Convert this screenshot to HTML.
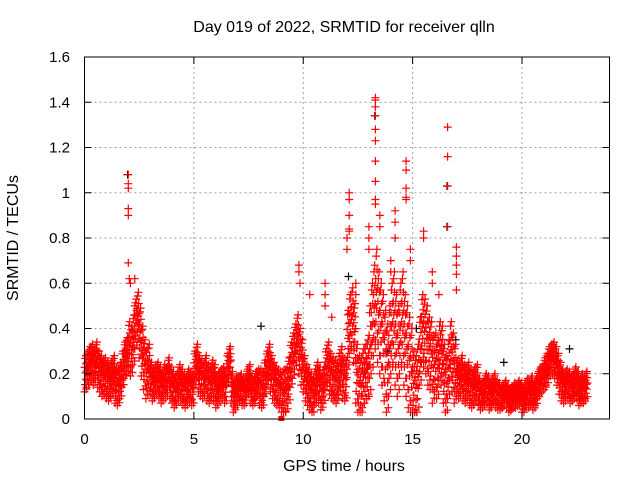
<!DOCTYPE html>
<html><head><meta charset="utf-8"><style>
body{margin:0;background:#fff;}
svg{display:block;font-family:"Liberation Sans",sans-serif;}
</style></head><body>
<svg width="640" height="480" id="c">
<text x="344" y="32" text-anchor="middle" font-size="16">Day 019 of 2022, SRMTID for receiver qlln</text>
<text x="344" y="471" text-anchor="middle" font-size="16">GPS time / hours</text>
<text transform="translate(18,238) rotate(-90)" text-anchor="middle" font-size="16">SRMTID / TECUs</text>
<g id="grid"></g>
<g id="marks"></g>
<rect x="84.5" y="57" width="525" height="362" fill="none" stroke="#000" stroke-width="1"/>
<g id="ticks"></g>
</svg>
<script>
const xTicks=[0,5,10,15,20];
const yTicks=[0,0.2,0.4,0.6,0.8,1,1.2,1.4,1.6];
const yTickLabels=["0","0.2","0.4","0.6","0.8","1","1.2","1.4","1.6"];
const baseMid=[
.20,.22,.24,.25,.23,.26,.22,.20,.18,.19,
.17,.16,.18,.20,.15,.14,.17,.22,.26,.28,
.32,.30,.35,.42,.45,.38,.30,.24,.20,.22,
.18,.15,.17,.18,.16,.14,.17,.16,.20,.16,
.14,.12,.14,.17,.15,.13,.12,.15,.14,.13,
.22,.25,.20,.18,.17,.20,.16,.15,.18,.16,
.12,.14,.15,.16,.14,.22,.25,.14,.10,.12,
.13,.14,.12,.12,.16,.18,.13,.12,.15,.16,
.14,.13,.18,.22,.25,.20,.17,.15,.14,.13,
.11,.12,.13,.17,.24,.28,.32,.36,.30,.25,
.20,.16,.14,.12,.10,.14,.17,.15,.12,.15,
.22,.25,.20,.18,.17,.16,.20,.23,.18,.17,
.35,.42,.45,.38,.20,.15,.14,.18,.20,.22,
.30,.40,.48,.55,.45,.40,.35,.28,.22,.30,
.40,.45,.35,.30,.40,.45,.35,.30,.25,.20,
.15,.13,.18,.30,.40,.38,.35,.30,.28,.22,
.25,.22,.30,.28,.20,.15,.22,.30,.25,.20,
.18,.17,.20,.16,.15,.17,.14,.13,.15,.16,
.12,.10,.11,.14,.13,.10,.12,.14,.11,.10,
.09,.10,.12,.10,.08,.09,.11,.10,.12,.11,
.08,.10,.12,.11,.13,.10,.12,.15,.17,.18,
.20,.22,.25,.26,.27,.25,.22,.18,.15,.14,
.16,.15,.13,.14,.17,.15,.12,.14,.13,.15];
const hourSpread=[.08,.08,.11,.07,.07,.08,.07,.06,.08,.1,.08,.09,.13,.2,.2,.15,.13,.08,.06,.05,.06,.07,.06];
const spikeTimes=[2.0,2.0,2.0,2.0,2.0,2.0,2.05,2.1,2.3,2.3,9.8,9.8,9.85,10.3,11.0,11.0,11.0,11.3,12.0,12.0,12.1,12.1,12.1,12.1,12.1,12.4,12.4,13.0,13.0,13.0,13.3,13.3,13.3,13.3,13.3,13.3,13.3,13.3,13.3,13.3,13.5,13.5,14.2,14.2,14.2,14.0,14.0,14.7,14.7,14.7,14.7,14.7,14.9,14.9,15.5,15.5,15.9,15.9,16.6,16.6,16.6,16.6,17.0,17.0,17.0,17.0,17.0,16.2];
const spikeValues=[1.08,1.04,1.02,0.93,0.9,0.69,0.62,0.6,0.62,0.5,0.68,0.65,0.6,0.55,0.6,0.55,0.5,0.45,0.8,0.75,1.0,0.97,0.9,0.84,0.83,0.6,0.55,0.85,0.8,0.75,1.42,1.41,1.38,1.34,1.28,1.23,1.14,1.05,0.97,0.95,0.9,0.85,0.92,0.87,0.8,0.7,0.65,1.14,1.1,1.02,0.98,0.97,0.75,0.7,0.83,0.8,0.65,0.6,1.29,1.16,1.03,0.85,0.76,0.72,0.68,0.64,0.57,0.55];
const blackTimes=[8.1,16.6,16.6,2.0,13.3,12.1,19.2,22.2,17.0,13.9,15.2];
const blackValues=[0.41,1.03,0.85,1.08,1.34,0.63,0.25,0.31,0.35,0.3,0.4];
const NS="http://www.w3.org/2000/svg";
const X=t=>84.5+t*525/24, Y=v=>419-v*362/1.6;
const scatter=[[-1,0],[0.35,0.011],[-0.6,0.022],[0.85,0.033],[0.05,0.044],[-0.3,0.055],[1,0.066],[0.55,0.077],[-0.85,0.088],[0.15,0.095]];
const grid=document.getElementById('grid'),marks=document.getElementById('marks'),ticks=document.getElementById('ticks');
function ln(g,x1,y1,x2,y2,st,dash){const l=document.createElementNS(NS,'line');l.setAttribute('x1',x1);l.setAttribute('y1',y1);l.setAttribute('x2',x2);l.setAttribute('y2',y2);l.setAttribute('stroke',st);if(dash)l.setAttribute('stroke-dasharray',dash);g.appendChild(l);return l;}
xTicks.forEach(t=>{const x=X(t);
 const g=ln(grid,x,57,x,419,'#a0a0a0','2,3');
 
 
 ln(ticks,x,419,x,412,'#000');ln(ticks,x,57,x,64,'#000');
 const tx=document.createElementNS(NS,'text');tx.setAttribute('x',x);tx.setAttribute('y',444);tx.setAttribute('text-anchor','middle');tx.setAttribute('font-size','15');tx.textContent=String(t);
 
 
 ticks.appendChild(tx);});
yTicks.forEach((v,i)=>{const y=Y(v);
 const g=ln(grid,84.5,y,609.5,y,'#a0a0a0','2,3');
 
 
 ln(ticks,84.5,y,91.5,y,'#000');ln(ticks,609.5,y,602.5,y,'#000');
 const tx=document.createElementNS(NS,'text');tx.setAttribute('x',70);tx.setAttribute('y',y+5);tx.setAttribute('text-anchor','end');tx.setAttribute('font-size','15');tx.textContent=yTickLabels[i];
 
 
 ticks.appendChild(tx);});
let d={'#000':'','#f00':''};
function plus(t,v,c){const x=X(t).toFixed(1),y=Y(v).toFixed(1);d[c]+=`M${x-4} ${y}h8M${x} ${y-4}v8`;}
blackTimes.forEach((t,i)=>plus(t-0.03,blackValues[i],'#000'));
baseMid.forEach((m,i)=>{const t=i*0.1,s=hourSpread[Math.floor(i/10)];
 scatter.forEach(([k,o])=>plus(t+o,Math.max(0.03,m+k*s),'#f00'));});
spikeTimes.forEach((t,i)=>plus(t,spikeValues[i],'#f00'));
for(const c in d){const p=document.createElementNS(NS,'path');p.setAttribute('d',d[c]);p.setAttribute('stroke',c);p.setAttribute('stroke-width','1.2');p.setAttribute('fill','none');
 
 
 marks.appendChild(p);}
const sq=document.createElementNS(NS,'rect');sq.setAttribute('x',X(9)-3);sq.setAttribute('y',Y(0)-3);sq.setAttribute('width',6);sq.setAttribute('height',5);sq.setAttribute('fill','#f00');


marks.appendChild(sq);
</script>
</body></html>
